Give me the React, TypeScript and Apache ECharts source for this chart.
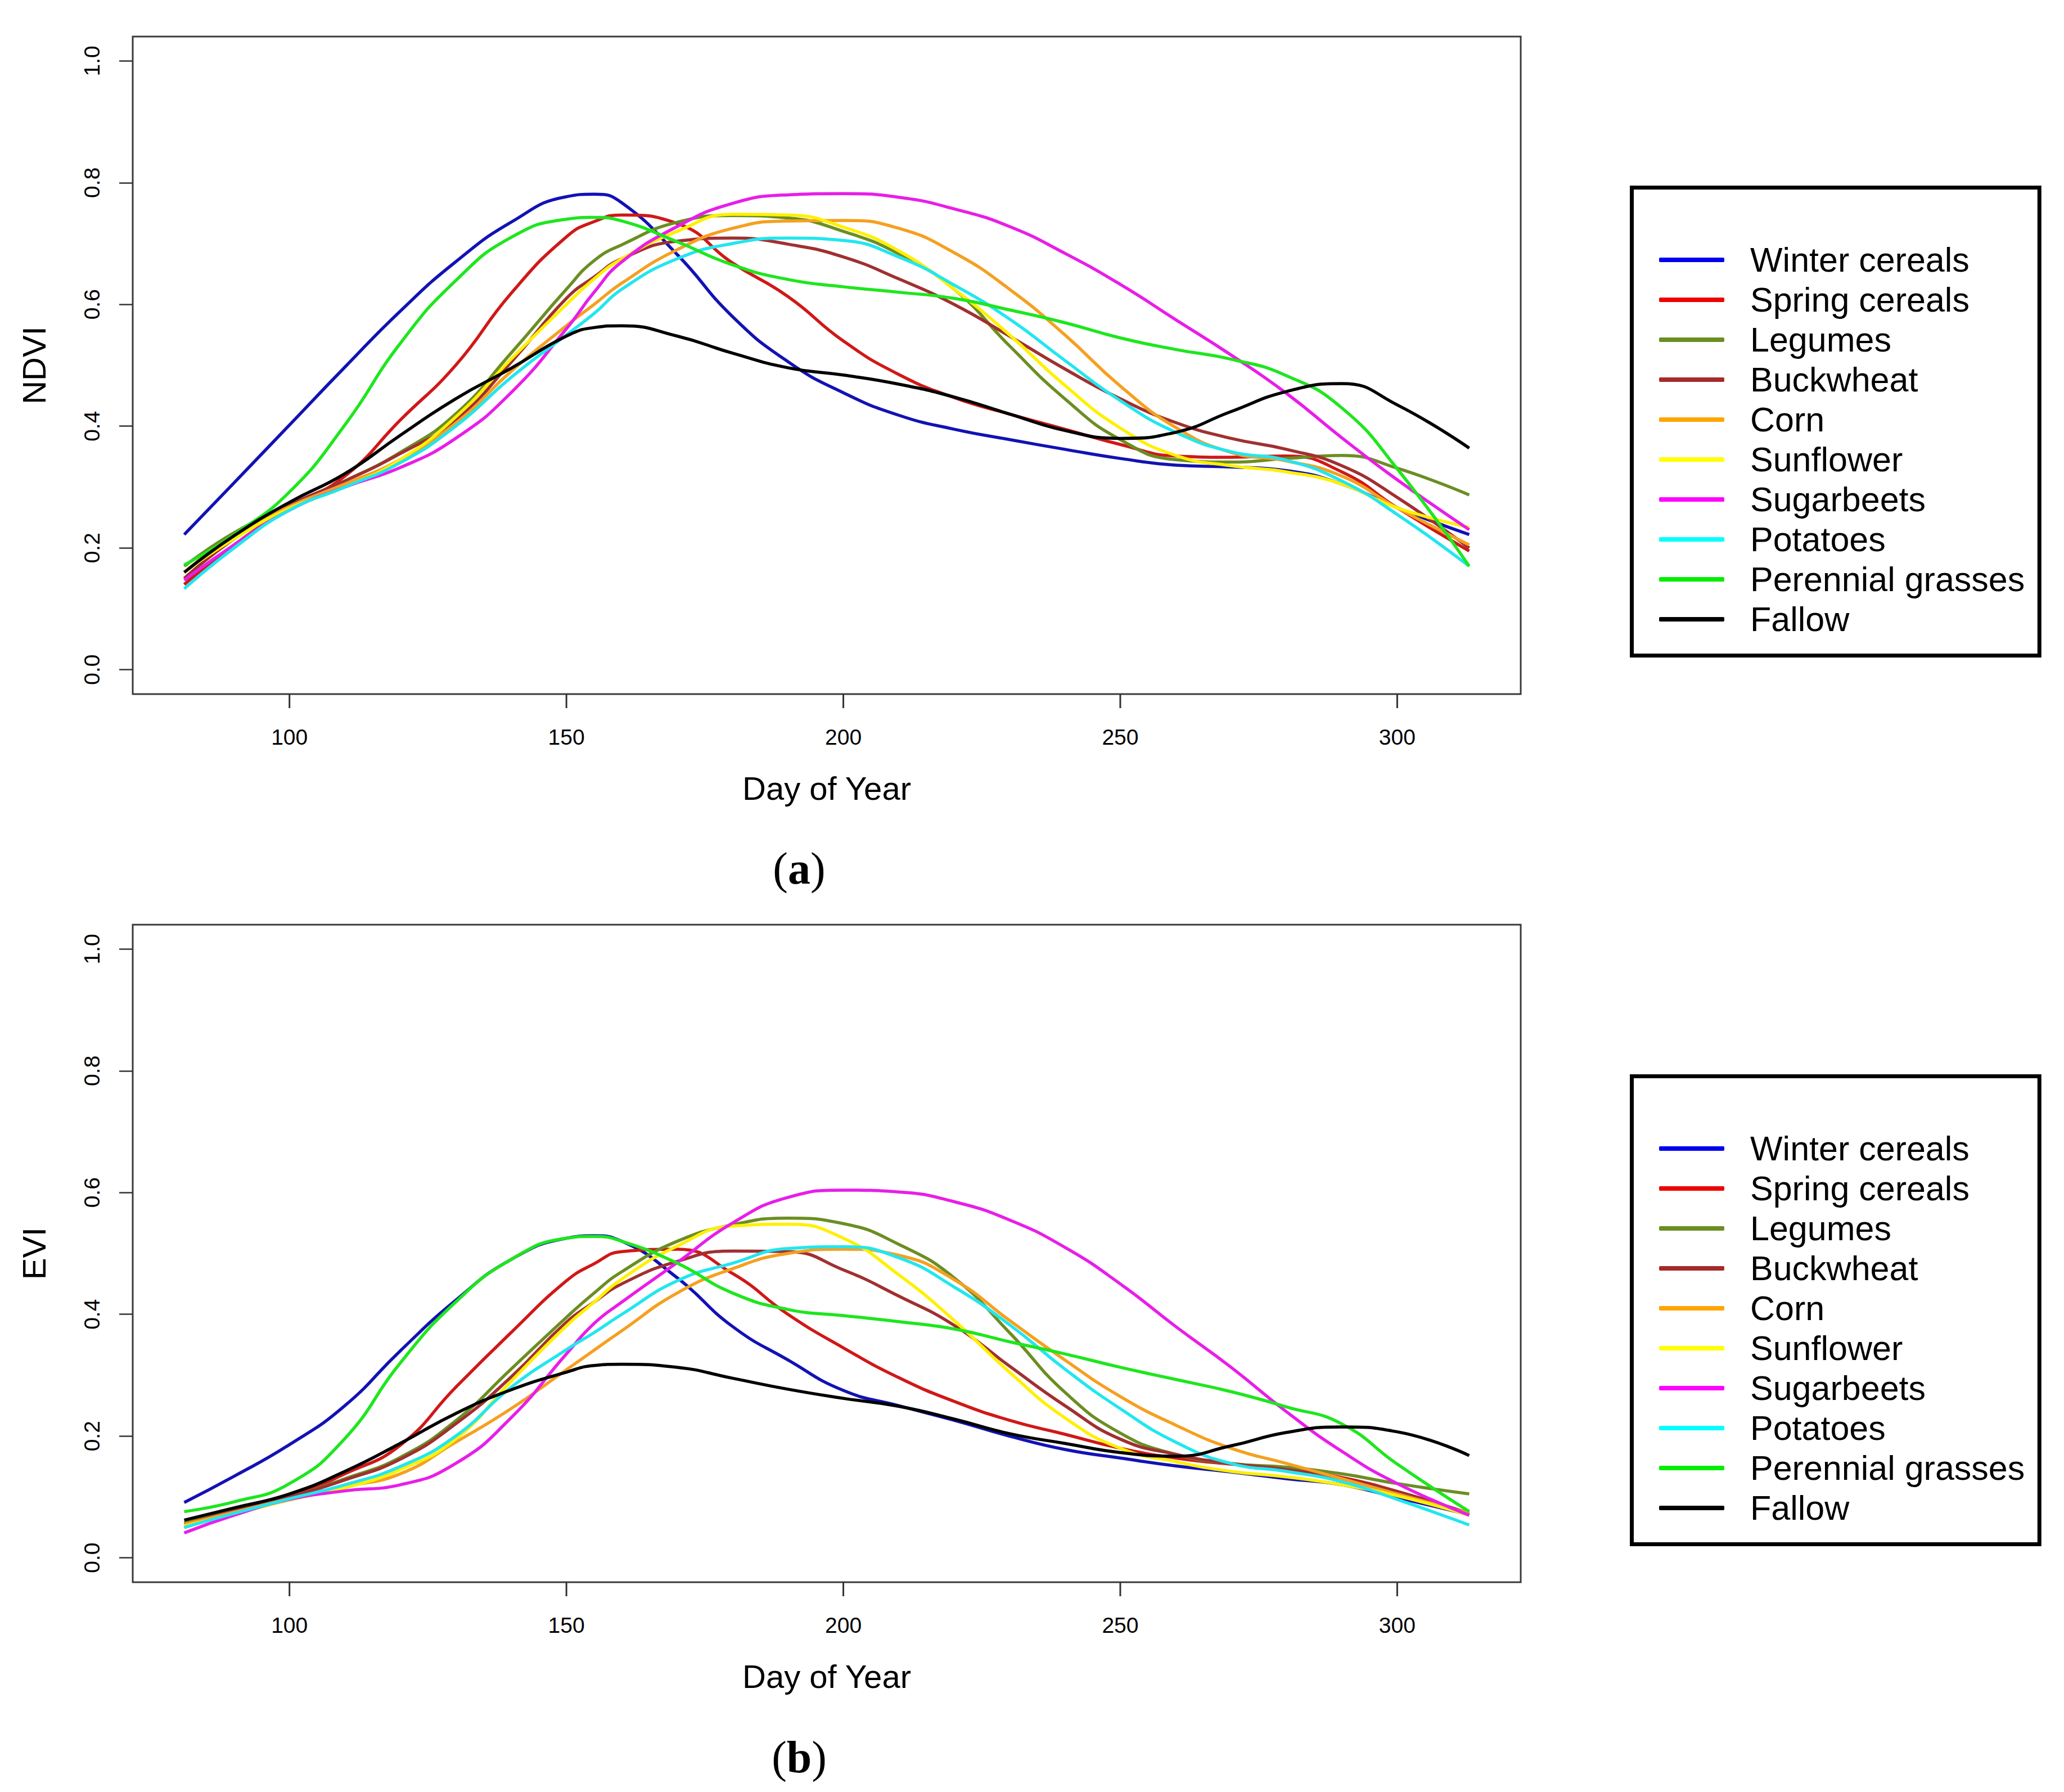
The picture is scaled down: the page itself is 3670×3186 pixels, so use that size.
import React, { useEffect, useRef } from "react";
import * as echarts from "echarts";

const DAYS = [81, 90, 100, 110, 120, 130, 140, 150, 155, 160, 170, 180, 190, 200, 210, 220, 230, 240, 250, 260, 270, 280, 290, 300, 313];

const CROPS = ["Winter cereals", "Spring cereals", "Legumes", "Buckwheat", "Corn", "Sunflower", "Sugarbeets", "Potatoes", "Perennial grasses", "Fallow"];

const X_TICKS = [100, 150, 200, 250, 300];
const Y_TICKS = [0, 0.2, 0.4, 0.6, 0.8, 1.0];

// NDVI panel (a)
const NDVI_WINTER = [0.222, 0.307, 0.402, 0.497, 0.589, 0.67, 0.735, 0.777, 0.781, 0.767, 0.682, 0.58, 0.506, 0.455, 0.418, 0.395, 0.378, 0.362, 0.347, 0.336, 0.333, 0.327, 0.305, 0.266, 0.222];
const NDVI_SPRING = [0.14, 0.205, 0.266, 0.318, 0.41, 0.5, 0.618, 0.711, 0.736, 0.747, 0.733, 0.668, 0.613, 0.54, 0.485, 0.447, 0.42, 0.395, 0.37, 0.351, 0.349, 0.351, 0.325, 0.266, 0.195];
const NDVI_LEGUMES = [0.17, 0.225, 0.27, 0.31, 0.357, 0.42, 0.52, 0.625, 0.672, 0.698, 0.735, 0.746, 0.742, 0.72, 0.683, 0.625, 0.532, 0.445, 0.378, 0.345, 0.341, 0.347, 0.352, 0.331, 0.287];
const NDVI_BUCKWHEAT = [0.15, 0.215, 0.27, 0.31, 0.355, 0.41, 0.505, 0.61, 0.645, 0.675, 0.704, 0.709, 0.699, 0.678, 0.642, 0.6, 0.548, 0.494, 0.445, 0.406, 0.38, 0.362, 0.335, 0.283, 0.2];
const NDVI_CORN = [0.16, 0.22, 0.268, 0.305, 0.345, 0.405, 0.49, 0.565, 0.6, 0.635, 0.69, 0.725, 0.737, 0.738, 0.725, 0.685, 0.625, 0.55, 0.466, 0.398, 0.357, 0.343, 0.318, 0.266, 0.205];
const NDVI_SUNFLOWER = [0.16, 0.215, 0.265, 0.3, 0.345, 0.415, 0.51, 0.6, 0.642, 0.675, 0.72, 0.748, 0.747, 0.727, 0.688, 0.625, 0.55, 0.467, 0.397, 0.352, 0.335, 0.325, 0.305, 0.266, 0.234];
const NDVI_SUGARBEETS = [0.147, 0.205, 0.262, 0.3, 0.332, 0.38, 0.455, 0.56, 0.62, 0.67, 0.728, 0.766, 0.78, 0.782, 0.776, 0.757, 0.728, 0.684, 0.633, 0.575, 0.517, 0.454, 0.381, 0.312, 0.23];
const NDVI_POTATOES = [0.133, 0.2, 0.262, 0.3, 0.34, 0.4, 0.48, 0.55, 0.585, 0.625, 0.675, 0.7, 0.709, 0.705, 0.678, 0.632, 0.576, 0.508, 0.442, 0.39, 0.358, 0.344, 0.31, 0.255, 0.17];
const NDVI_PERENNIAL = [0.172, 0.222, 0.292, 0.402, 0.536, 0.639, 0.71, 0.74, 0.743, 0.737, 0.703, 0.665, 0.641, 0.629, 0.62, 0.61, 0.591, 0.57, 0.545, 0.526, 0.51, 0.483, 0.43, 0.33, 0.17];
const NDVI_FALLOW = [0.16, 0.22, 0.275, 0.322, 0.385, 0.445, 0.495, 0.548, 0.562, 0.565, 0.548, 0.52, 0.496, 0.484, 0.469, 0.448, 0.42, 0.393, 0.38, 0.39, 0.424, 0.457, 0.47, 0.435, 0.364];

// EVI panel (b)
const EVI_WINTER = [0.091, 0.134, 0.186, 0.25, 0.34, 0.423, 0.49, 0.525, 0.529, 0.52, 0.46, 0.38, 0.325, 0.275, 0.25, 0.226, 0.2, 0.178, 0.164, 0.151, 0.141, 0.13, 0.12, 0.099, 0.071];
const EVI_SPRING = [0.05, 0.075, 0.1, 0.138, 0.185, 0.28, 0.37, 0.455, 0.483, 0.503, 0.507, 0.467, 0.4, 0.345, 0.296, 0.257, 0.226, 0.203, 0.18, 0.164, 0.154, 0.147, 0.132, 0.109, 0.07];
const EVI_LEGUMES = [0.057, 0.078, 0.1, 0.13, 0.165, 0.225, 0.31, 0.395, 0.435, 0.47, 0.52, 0.547, 0.558, 0.549, 0.515, 0.46, 0.37, 0.272, 0.205, 0.17, 0.155, 0.149, 0.138, 0.122, 0.105];
const EVI_BUCKWHEAT = [0.055, 0.077, 0.1, 0.128, 0.162, 0.22, 0.297, 0.387, 0.42, 0.45, 0.487, 0.504, 0.503, 0.473, 0.43, 0.382, 0.315, 0.25, 0.195, 0.17, 0.155, 0.145, 0.13, 0.109, 0.073];
const EVI_CORN = [0.055, 0.075, 0.097, 0.117, 0.138, 0.19, 0.245, 0.309, 0.341, 0.373, 0.435, 0.475, 0.5, 0.507, 0.497, 0.457, 0.39, 0.325, 0.265, 0.218, 0.18, 0.155, 0.13, 0.105, 0.073];
const EVI_SUNFLOWER = [0.052, 0.072, 0.095, 0.115, 0.145, 0.195, 0.29, 0.381, 0.42, 0.458, 0.512, 0.545, 0.548, 0.525, 0.465, 0.39, 0.305, 0.23, 0.18, 0.158, 0.142, 0.133, 0.12, 0.102, 0.07];
const EVI_SUGARBEETS = [0.041, 0.07, 0.096, 0.11, 0.12, 0.155, 0.23, 0.335, 0.385, 0.42, 0.485, 0.55, 0.592, 0.604, 0.601, 0.585, 0.555, 0.51, 0.45, 0.38, 0.313, 0.24, 0.175, 0.122, 0.07];
const EVI_POTATOES = [0.05, 0.073, 0.097, 0.12, 0.15, 0.2, 0.28, 0.342, 0.37, 0.4, 0.455, 0.484, 0.508, 0.511, 0.493, 0.445, 0.383, 0.31, 0.245, 0.19, 0.155, 0.142, 0.125, 0.096, 0.054];
const EVI_PERENNIAL = [0.076, 0.092, 0.122, 0.196, 0.32, 0.42, 0.49, 0.525, 0.528, 0.52, 0.484, 0.435, 0.408, 0.398, 0.388, 0.376, 0.355, 0.335, 0.313, 0.293, 0.273, 0.248, 0.22, 0.154, 0.076];
const EVI_FALLOW = [0.062, 0.082, 0.105, 0.142, 0.188, 0.237, 0.276, 0.305, 0.316, 0.318, 0.313, 0.295, 0.277, 0.262, 0.249, 0.228, 0.204, 0.188, 0.173, 0.167, 0.184, 0.206, 0.215, 0.207, 0.168];

const NDVI_VALUES = [NDVI_WINTER, NDVI_SPRING, NDVI_LEGUMES, NDVI_BUCKWHEAT, NDVI_CORN, NDVI_SUNFLOWER, NDVI_SUGARBEETS, NDVI_POTATOES, NDVI_PERENNIAL, NDVI_FALLOW];
const EVI_VALUES = [EVI_WINTER, EVI_SPRING, EVI_LEGUMES, EVI_BUCKWHEAT, EVI_CORN, EVI_SUNFLOWER, EVI_SUGARBEETS, EVI_POTATOES, EVI_PERENNIAL, EVI_FALLOW];

const LINE_COLORS = ["#1212B4", "#D01818", "#6B8E23", "#A03030", "#F5A020", "#FFF000", "#E81EE8", "#22E6EE", "#1EE61E", "#000000"];
const LEGEND_COLORS = ["#0000EE", "#EE0000", "#6B8E23", "#A52A2A", "#FFA500", "#FFFF00", "#FF00FF", "#00FFFF", "#00EE00", "#000000"];

const W = 3670;
const H = 3186;
const SANS = "'Liberation Sans', Arial, sans-serif";
const SERIF = "'Liberation Serif', 'Times New Roman', serif";
const AXIS_GREY = "#3a3a3a";
const GRID_LEFT = 236;
const GRID_W = 2468;
const GRID_H = 1169;
const Y_MIN = -0.04;
const Y_MAX = 1.04;
const X_TICK_LEN = 25;

const PANELS = [
  { top: 65, yName: "NDVI", values: NDVI_VALUES, tag: "a", tagY: 1544, legendTop: 333.5 },
  { top: 1644, yName: "EVI", values: EVI_VALUES, tag: "b", tagY: 3124, legendTop: 1913.5 },
];

function buildOption() {
  const grid = PANELS.map((p) => ({
    left: GRID_LEFT,
    top: p.top,
    width: GRID_W,
    height: GRID_H,
    show: true,
    borderColor: AXIS_GREY,
    borderWidth: 3,
    backgroundColor: "transparent",
  }));
  const xAxis = PANELS.map((p, i) => ({
    type: "value",
    gridIndex: i,
    position: "bottom",
    min: 71.7,
    max: 322.3,
    name: "Day of Year",
    nameLocation: "middle",
    nameGap: 138,
    nameTextStyle: { fontSize: 58, fontFamily: SANS, color: "#000" },
    axisLine: { show: false, onZero: false },
    splitLine: { show: false },
    axisTick: { show: false },
    axisLabel: { customValues: X_TICKS, fontSize: 39, fontFamily: SANS, color: "#000", margin: 57 },
  }));
  const yAxis = PANELS.map((p, i) => ({
    type: "value",
    gridIndex: i,
    position: "left",
    min: Y_MIN,
    max: Y_MAX,
    name: p.yName,
    nameLocation: "middle",
    nameGap: 147,
    nameTextStyle: { fontSize: 58, fontFamily: SANS, color: "#000" },
    axisLine: { show: false, onZero: false },
    splitLine: { show: false },
    axisTick: { show: true, inside: false, length: 24, lineStyle: { color: "#333", width: 2.5 }, customValues: Y_TICKS },
    axisLabel: {
      customValues: Y_TICKS,
      rotate: 90,
      fontSize: 39,
      fontFamily: SANS,
      color: "#000",
      margin: 53,
      formatter: (v: number) => v.toFixed(1),
    },
  }));
  const series: any[] = [];
  PANELS.forEach((p, i) => {
    CROPS.forEach((name, k) => {
      series.push({
        type: "line",
        name,
        xAxisIndex: i,
        yAxisIndex: i,
        data: DAYS.map((d, j) => [d, p.values[k][j]]),
        smooth: 0.5,
        showSymbol: false,
        symbol: "none",
        lineStyle: { width: 5.5, color: LINE_COLORS[k] },
        itemStyle: { color: LINE_COLORS[k] },
      });
    });
    // x-axis tick marks hanging below the plot box, placed with the axis scale
    series.push({
      type: "custom",
      name: `x-ticks-${i}`,
      xAxisIndex: i,
      yAxisIndex: i,
      silent: true,
      clip: false,
      z: 20,
      data: X_TICKS.map((v) => [v, Y_MIN]),
      renderItem: (_params: any, api: any) => {
        const pt = api.coord([api.value(0), api.value(1)]);
        return {
          type: "line",
          shape: { x1: pt[0], y1: pt[1], x2: pt[0], y2: pt[1] + X_TICK_LEN },
          style: { stroke: "#333", lineWidth: 3 },
        };
      },
    });
  });
  const legend = PANELS.map((p) => ({
    orient: "vertical",
    left: 2901.5,
    top: p.legendTop,
    padding: [93, 26, 29, 48.5],
    itemWidth: 116,
    itemHeight: 8,
    itemGap: 0,
    icon: "roundRect",
    selectedMode: false,
    borderColor: "#000",
    borderWidth: 7,
    backgroundColor: "#fff",
    textStyle: { fontSize: 61, fontFamily: SANS, color: "#000", lineHeight: 71, padding: [0, 0, 0, 41] },
    data: CROPS.map((n, k) => ({ name: n, itemStyle: { color: LEGEND_COLORS[k] } })),
  }));
  const graphic = PANELS.map((p) => ({
    type: "text",
    x: 1421,
    y: p.tagY,
    style: {
      text: `{p|(}{b|${p.tag}}{p|)}`,
      align: "center",
      verticalAlign: "middle",
      rich: {
        p: { fontSize: 80, fontFamily: SERIF, fill: "#000", fontWeight: "normal" },
        b: { fontSize: 80, fontFamily: SERIF, fill: "#000", fontWeight: "bold" },
      },
    },
  }));
  return {
    animation: false,
    backgroundColor: "#fff",
    grid,
    xAxis,
    yAxis,
    legend,
    series,
    graphic,
  };
}

export default function App() {
  const ref = useRef<HTMLDivElement>(null);
  useEffect(() => {
    if (!ref.current) return;
    const chart = echarts.init(ref.current, null, { renderer: "svg", width: W, height: H });
    chart.setOption(buildOption() as any);
    return () => chart.dispose();
  }, []);
  return (
    <div
      ref={ref}
      style={{ position: "absolute", left: 0, top: 0, width: W, height: H, background: "#fff" }}
    />
  );
}
